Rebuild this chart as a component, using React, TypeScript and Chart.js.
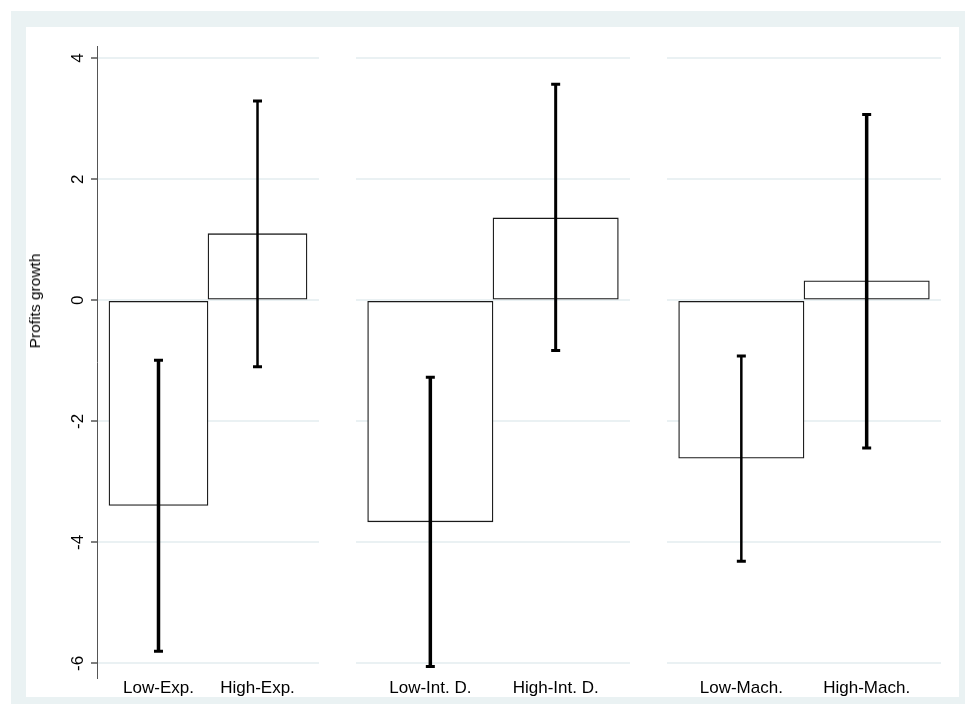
import React, { useEffect, useRef } from 'react';
import { Chart, registerables } from 'chart.js';

Chart.register(...registerables);

// ---- data ----
const expLabels = ['Low-Exp.', 'High-Exp.'];
const expMeans = [-3.39, 1.1];
const expLower = [-5.8, -1.1];
const expUpper = [-0.99, 3.29];

const intLabels = ['Low-Int. D.', 'High-Int. D.'];
const intMeans = [-3.66, 1.36];
const intLower = [-6.05, -0.83];
const intUpper = [-1.27, 3.57];

const machLabels = ['Low-Mach.', 'High-Mach.'];
const machMeans = [-2.61, 0.32];
const machLower = [-4.31, -2.44];
const machUpper = [-0.92, 3.07];

const yTickValues = [-6, -4, -2, 0, 2, 4];
const yMin = -6.24;
const yMax = 4.2;
const yTitle = 'Profits growth';

// ---- layout / style ----
const W = 965;
const H = 704;
const FONT = "'Liberation Sans', Arial, Helvetica, sans-serif";
const PLOT_TOP = 46;
const XAXIS_H = 26;
const GRID_COLOR = '#eaf1f3';

type PanelSpec = {
  labels: string[];
  means: number[];
  lower: number[];
  upper: number[];
  left: number;
  right: number;
  gap: number;
  showY: boolean;
  errWidths: number[];
};

const panels: PanelSpec[] = [
  { labels: expLabels, means: expMeans, lower: expLower, upper: expUpper, left: 97, right: 319, gap: 0.121, showY: true, errWidths: [3.5, 2.5] },
  { labels: intLabels, means: intMeans, lower: intLower, upper: intUpper, left: 356, right: 630, gap: 0.093, showY: false, errWidths: [3.5, 3] },
  { labels: machLabels, means: machMeans, lower: machLower, upper: machUpper, left: 667, right: 941, gap: 0.093, showY: false, errWidths: [2.5, 3.5] },
];

function Panel({ spec }: { spec: PanelSpec }) {
  const ref = useRef<HTMLCanvasElement | null>(null);
  useEffect(() => {
    if (!ref.current) return;
    const yWidth = spec.showY ? spec.left : 0;
    const errorBars = {
      id: 'errorBars',
      afterDatasetsDraw(chart: any) {
        const ctx = chart.ctx;
        const meta = chart.getDatasetMeta(0);
        const ys = chart.scales.y;
        ctx.save();
        ctx.strokeStyle = '#000';
        ctx.lineCap = 'butt';
        meta.data.forEach((bar: any, i: number) => {
          const x = bar.x;
          const yl = ys.getPixelForValue(spec.lower[i]);
          const yu = ys.getPixelForValue(spec.upper[i]);
          ctx.lineWidth = spec.errWidths[i];
          ctx.beginPath();
          ctx.moveTo(x, yl);
          ctx.lineTo(x, yu);
          ctx.stroke();
          ctx.lineWidth = 3;
          ctx.beginPath();
          ctx.moveTo(x - 4.5, yl);
          ctx.lineTo(x + 4.5, yl);
          ctx.moveTo(x - 4.5, yu);
          ctx.lineTo(x + 4.5, yu);
          ctx.stroke();
        });
        ctx.restore();
      },
    };
    const chart = new Chart(ref.current, {
      type: 'bar',
      data: {
        datasets: [
          {
            data: spec.means.map((v, i) => ({ x: i + 0.5, y: v })),
            backgroundColor: '#ffffff',
            borderColor: '#1a1a1a',
            borderWidth: 1.3,
            borderSkipped: false,
            categoryPercentage: 1,
            barPercentage: 1,
          } as any,
        ],
      },
      options: {
        animation: false,
        responsive: false,
        devicePixelRatio: 1,
        events: [],
        layout: { padding: { left: spec.left - yWidth, right: W - spec.right, top: PLOT_TOP, bottom: 0 } },
        plugins: { legend: { display: false }, tooltip: { enabled: false } },
        scales: {
          x: {
            type: 'linear',
            offset: false,
            min: -spec.gap,
            max: spec.labels.length + spec.gap,
            afterBuildTicks: (s: any) => {
              s.ticks = spec.labels.map((_, i) => ({ value: i + 0.5 }));
            },
            afterFit: (s: any) => {
              s.height = XAXIS_H;
            },
            grid: { display: false, drawTicks: false, offset: false },
            border: { display: false },
            ticks: {
              autoSkip: false,
              minRotation: 0,
              maxRotation: 0,
              padding: 0,
              color: '#000',
              font: { family: FONT, size: 17 },
              callback: (_v: any, i: number) => spec.labels[i],
            },
          } as any,
          y: {
            type: 'linear',
            min: yMin,
            max: yMax,
            afterBuildTicks: (s: any) => {
              s.ticks = yTickValues.map((v) => ({ value: v }));
            },
            afterFit: (s: any) => {
              s.width = yWidth;
            },
            grid: {
              color: GRID_COLOR,
              lineWidth: 2,
              drawTicks: spec.showY,
              tickLength: 6,
              tickColor: '#000',
              tickWidth: 1,
            },
            border: { display: spec.showY, color: '#555', width: 1 },
            ticks: {
              display: spec.showY,
              minRotation: 90,
              maxRotation: 90,
              crossAlign: 'center',
              padding: 5,
              color: '#000',
              font: { family: FONT, size: 17 },
              callback: (v: any) => String(v),
            },
          } as any,
        },
      },
      plugins: [errorBars as any],
    });
    return () => chart.destroy();
  }, [spec]);
  return (
    <canvas
      ref={ref}
      width={W}
      height={H}
      style={{ position: 'absolute', left: 0, top: 0, width: W, height: H }}
    />
  );
}

export default function App() {
  return (
    <div style={{ position: 'fixed', left: 0, top: 0, width: W, height: H, background: '#fff', overflow: 'hidden' }}>
      <div style={{ position: 'absolute', left: 11, top: 11, width: W - 11, height: H - 11, background: '#eaf2f3' }} />
      <div style={{ position: 'absolute', left: 26, top: 27, width: 933, height: 670, background: '#fff' }} />
      {panels.map((p, i) => (
        <Panel key={i} spec={p} />
      ))}
      <div
        style={{
          position: 'absolute',
          left: 35,
          top: 301,
          transform: 'translate(-50%, -50%) rotate(-90deg)',
          fontFamily: FONT,
          fontSize: 15.5,
          whiteSpace: 'nowrap',
          color: '#000',
        }}
      >
        {yTitle}
      </div>
    </div>
  );
}
